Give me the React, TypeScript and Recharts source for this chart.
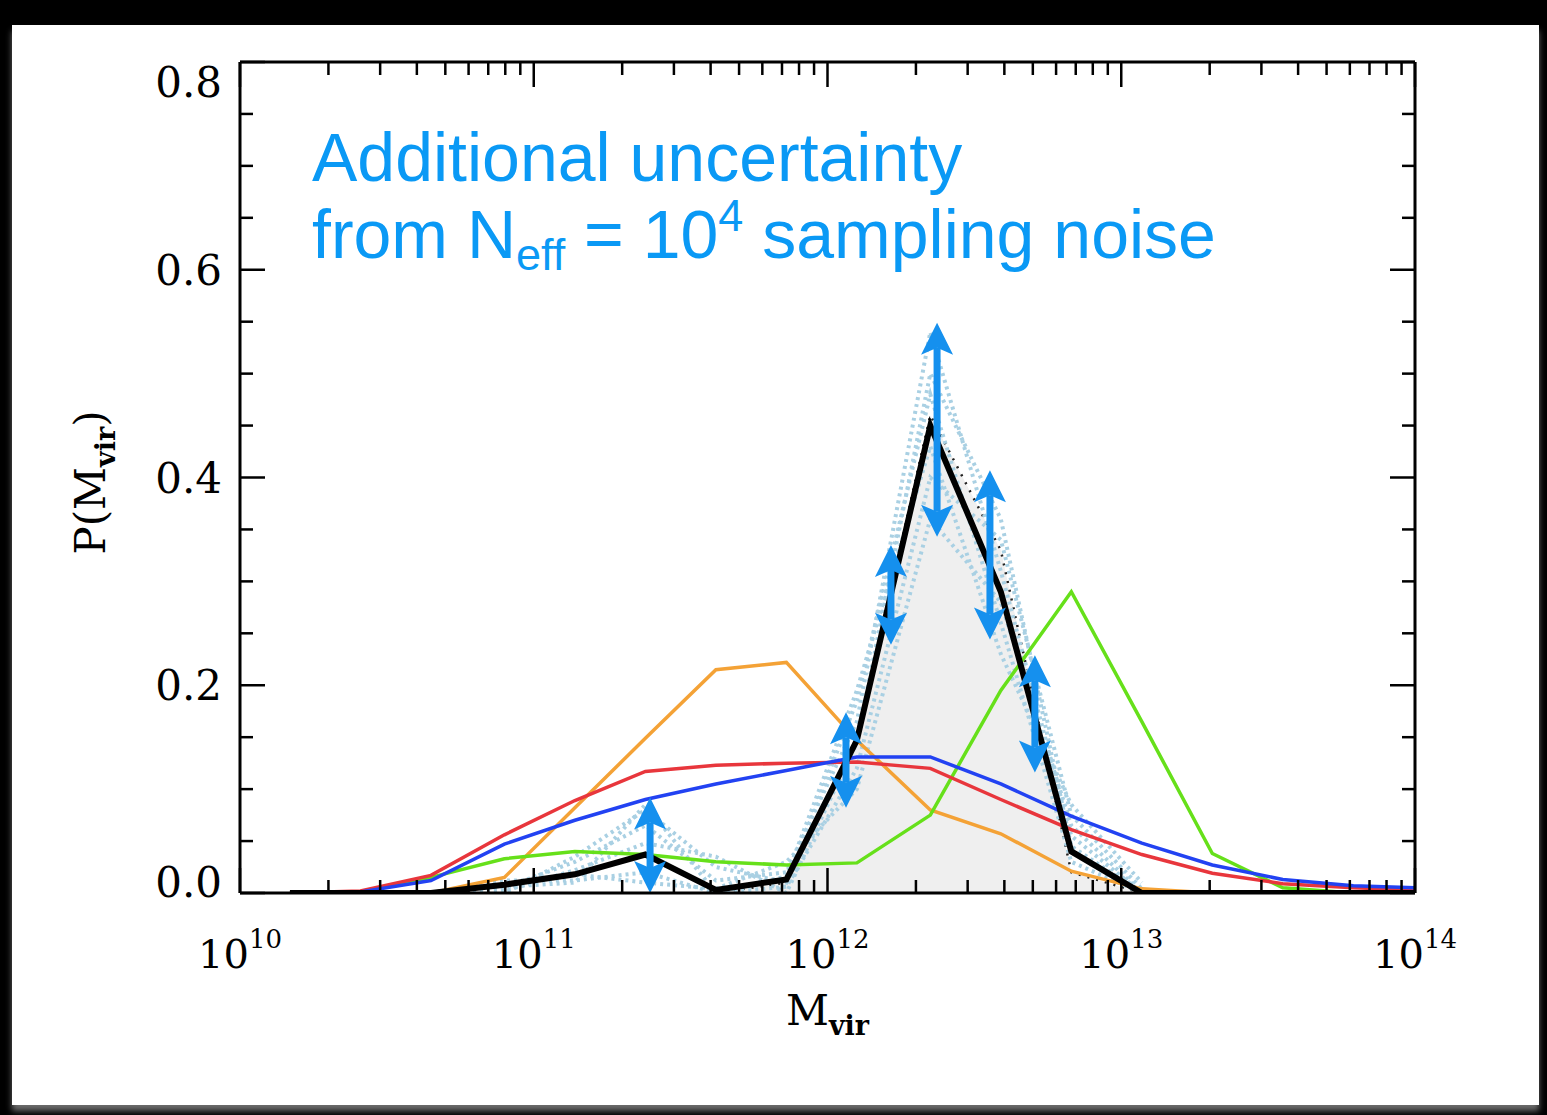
import React from "react";
import { ComposedChart, Line, Area, XAxis, YAxis, ReferenceLine } from "recharts";

// ---- data (log10 of virial mass bins, probabilities) ----
const logM = [10.17, 10.41, 10.65, 10.9, 11.14, 11.38, 11.62, 11.86, 12.1, 12.35, 12.59, 12.83, 13.07, 13.31, 13.55, 13.79, 14.0];

const blackP = [0, 0, 0, 0.008, 0.018, 0.037, 0.003, 0.013, 0.147, 0.45, 0.29, 0.04, 0, 0, 0, 0, 0];
const orangeP = [0, 0, 0, 0.015, 0.082, 0.149, 0.215, 0.222, 0.147, 0.08, 0.057, 0.021, 0.004, 0, 0, 0, 0];
const redP = [0, 0.002, 0.017, 0.056, 0.089, 0.117, 0.123, 0.125, 0.126, 0.12, 0.09, 0.061, 0.037, 0.019, 0.009, 0.005, 0.003];
const blueP = [0, 0.001, 0.012, 0.047, 0.07, 0.09, 0.105, 0.118, 0.131, 0.131, 0.105, 0.074, 0.048, 0.027, 0.013, 0.007, 0.005];
const greenP = [0, 0.001, 0.015, 0.033, 0.04, 0.037, 0.03, 0.027, 0.029, 0.075, 0.195, 0.29, 0.165, 0.038, 0.005, 0, 0];
const trueP = [null, null, null, null, null, null, 0, 0.01, 0.15, 0.46, 0.33, 0.02, 0, null, null, null, null];

const noise1 = [null, null, 0, 0.005, 0.03, 0.065, 0.012, 0.02, 0.165, 0.54, 0.31, 0.055, 0, null, null, null, null];
const noise2 = [null, null, 0, 0.012, 0.012, 0.02, 0.0, 0.006, 0.12, 0.4, 0.34, 0.075, 0.004, null, null, null, null];
const noise3 = [null, null, 0, 0.0, 0.035, 0.08, 0.025, 0.01, 0.185, 0.48, 0.26, 0.03, 0, null, null, null, null];
const noise4 = [null, null, 0, 0.008, 0.018, 0.01, 0.004, 0.03, 0.1, 0.36, 0.28, 0.065, 0, null, null, null, null];
const noise5 = [null, null, 0, 0.002, 0.022, 0.048, 0.035, 0.0, 0.145, 0.5, 0.36, 0.045, 0, null, null, null, null];
const noise6 = [null, null, 0, 0.006, 0.01, 0.085, 0.0, 0.016, 0.195, 0.43, 0.23, 0.085, 0.01, null, null, null, null];
const noiseSeries = [noise1, noise2, noise3, noise4, noise5, noise6];

// double-headed arrows: position (log10 M), low end, high end
const arrowLogM = [11.396, 12.063, 12.216, 12.373, 12.553, 12.706];
const arrowLow = [0.0, 0.082, 0.239, 0.343, 0.244, 0.116];
const arrowHigh = [0.092, 0.174, 0.335, 0.549, 0.407, 0.229];

// ticks
const xDecades = [10, 11, 12, 13, 14];
const minorMultipliers = [2, 3, 4, 5, 6, 7, 8, 9];
const yTicks = [0, 0.05, 0.1, 0.15, 0.2, 0.25, 0.3, 0.35, 0.4, 0.45, 0.5, 0.55, 0.6, 0.65, 0.7, 0.75, 0.8];

const xTicks: number[] = [];
xDecades.forEach((d, i) => {
  xTicks.push(d);
  if (i < xDecades.length - 1) minorMultipliers.forEach((k) => xTicks.push(d + Math.log10(k)));
});

const data = logM.map((L, i) => {
  const row: any = {
    L,
    black: blackP[i],
    orange: orangeP[i],
    red: redP[i],
    blue: blueP[i],
    green: greenP[i],
    truth: trueP[i],
  };
  noiseSeries.forEach((s, j) => (row["n" + (j + 1)] = s[i]));
  return row;
});

// ---- styles ----
const SERIF = "'DejaVu Serif', serif";
const SANS = "'Liberation Sans', Arial, sans-serif";
const ARROW = "#1590ee";
const TEXT_BLUE = "#0a99f5";
const MAJ = 25;
const MIN = 13;
const TICK_W = 2.5;

const isMajorX = (v: number) => Math.abs(v - Math.round(v)) < 1e-6;
const isMajorY = (v: number) => Math.abs(v / 0.2 - Math.round(v / 0.2)) < 1e-6;

function XTickBottom(props: any) {
  const { x, y, payload } = props;
  const v = payload.value;
  const major = isMajorX(v);
  return (
    <g>
      <line x1={x} x2={x} y1={y} y2={y - (major ? MAJ : MIN)} stroke="#000" strokeWidth={TICK_W} />
      {major && (
        <text x={x} y={y + 75} textAnchor="middle" fontFamily={SERIF} fontSize={40} fill="#000">
          10
          <tspan fontSize={26} dy={-20}>
            {Math.round(v)}
          </tspan>
        </text>
      )}
    </g>
  );
}

function XTickTop(props: any) {
  const { x, y, payload } = props;
  const major = isMajorX(payload.value);
  return <line x1={x} x2={x} y1={y} y2={y + (major ? MAJ : MIN)} stroke="#000" strokeWidth={TICK_W} />;
}

function YTickLeft(props: any) {
  const { x, y, payload } = props;
  const v = payload.value;
  const major = isMajorY(v);
  let dy = 15;
  if (Math.abs(v - 0.8) < 1e-6) dy = 35;
  if (Math.abs(v) < 1e-6) dy = 4;
  return (
    <g>
      <line x1={x} x2={x + (major ? MAJ : MIN)} y1={y} y2={y} stroke="#000" strokeWidth={TICK_W} />
      {major && (
        <text x={x - 18} y={y + dy} textAnchor="end" fontFamily={SERIF} fontSize={42} fill="#000">
          {v.toFixed(1)}
        </text>
      )}
    </g>
  );
}

function YTickRight(props: any) {
  const { x, y, payload } = props;
  const major = isMajorY(payload.value);
  return <line x1={x} x2={x - (major ? MAJ : MIN)} y1={y} y2={y} stroke="#000" strokeWidth={TICK_W} />;
}

function XTitle(props: any) {
  const vb = props.viewBox || {};
  const cx = vb.x + vb.width / 2;
  const by = vb.y + 132;
  return (
    <text x={cx} y={by} textAnchor="middle" fontFamily={SERIF} fontSize={42} fill="#000">
      M
      <tspan fontSize={27} fontWeight="bold" dy={10}>
        vir
      </tspan>
    </text>
  );
}

function YTitle(props: any) {
  const vb = props.viewBox || {};
  const bx = vb.x - 35;
  const cy = vb.y + vb.height / 2 + 5;
  return (
    <text
      x={bx}
      y={cy}
      transform={`rotate(-90, ${bx}, ${cy})`}
      textAnchor="middle"
      fontFamily={SERIF}
      fontSize={42}
      fill="#000"
    >
      P(M
      <tspan fontSize={27} fontWeight="bold" dy={10}>
        vir
      </tspan>
      <tspan dy={-10}>)</tspan>
    </text>
  );
}

function ArrowShape(p: any) {
  const { x1, y1, y2 } = p;
  const top = Math.min(y1, y2);
  const bot = Math.max(y1, y2);
  const x = x1;
  const hw = 16;
  const hl = 32;
  const notch = 7;
  return (
    <g>
      <line x1={x} x2={x} y1={top + hl - notch} y2={bot - hl + notch} stroke={ARROW} strokeWidth={7} />
      <polygon
        points={`${x},${top} ${x + hw},${top + hl} ${x},${top + hl - notch} ${x - hw},${top + hl}`}
        fill={ARROW}
      />
      <polygon
        points={`${x},${bot} ${x + hw},${bot - hl} ${x},${bot - hl + notch} ${x - hw},${bot - hl}`}
        fill={ARROW}
      />
    </g>
  );
}

export default function App() {
  return (
    <div style={{ position: "fixed", left: 0, top: 0, width: 1547, height: 1115, background: "#000", overflow: "hidden" }}>
      <div
        style={{
          position: "absolute",
          left: 12,
          top: 25,
          width: 1527,
          height: 1080,
          background: "#fff",
          boxShadow: "0 6px 6px rgba(120,120,120,0.9)",
        }}
      />
      <div style={{ position: "absolute", left: 0, top: 0 }}>
        <ComposedChart
          width={1547}
          height={1115}
          data={data}
          margin={{ top: 61, right: 131, bottom: 122, left: 140 }}
        >
          <XAxis
            dataKey="L"
            type="number"
            domain={[10, 14]}
            allowDataOverflow
            ticks={xTicks}
            interval={0}
            tick={<XTickBottom />}
            tickLine={false}
            tickSize={0}
            tickMargin={0}
            height={100}
            axisLine={{ stroke: "#000", strokeWidth: 3 }}
            label={(p: any) => <XTitle {...p} />}
          />
          <XAxis
            xAxisId="top"
            orientation="top"
            dataKey="L"
            type="number"
            domain={[10, 14]}
            allowDataOverflow
            ticks={xTicks}
            interval={0}
            tick={<XTickTop />}
            tickLine={false}
            tickSize={0}
            tickMargin={0}
            height={1}
            axisLine={{ stroke: "#000", strokeWidth: 3 }}
          />
          <YAxis
            type="number"
            domain={[0, 0.8]}
            allowDataOverflow
            ticks={yTicks}
            interval={0}
            tick={<YTickLeft />}
            tickLine={false}
            tickSize={0}
            tickMargin={0}
            width={100}
            axisLine={{ stroke: "#000", strokeWidth: 3 }}
            label={(p: any) => <YTitle {...p} />}
          />
          <YAxis
            yAxisId="right"
            orientation="right"
            type="number"
            domain={[0, 0.8]}
            allowDataOverflow
            ticks={yTicks}
            interval={0}
            tick={<YTickRight />}
            tickLine={false}
            tickSize={0}
            tickMargin={0}
            width={1}
            axisLine={{ stroke: "#000", strokeWidth: 3 }}
          />

          <Area
            dataKey="truth"
            type="linear"
            fill="#efefef"
            fillOpacity={1}
            stroke="#222"
            strokeWidth={2.5}
            strokeDasharray="2 7"
            dot={false}
            activeDot={false}
            isAnimationActive={false}
          />
          {noiseSeries.map((_, j) => (
            <Line
              key={"n" + j}
              dataKey={"n" + (j + 1)}
              type="linear"
              stroke="#a9d0e3"
              strokeWidth={4}
              strokeDasharray="3 4"
              dot={false}
              activeDot={false}
              isAnimationActive={false}
            />
          ))}
          <Line dataKey="orange" type="linear" stroke="#f4a236" strokeWidth={3.5} dot={false} activeDot={false} isAnimationActive={false} />
          <Line dataKey="green" type="linear" stroke="#66e01a" strokeWidth={3.5} dot={false} activeDot={false} isAnimationActive={false} />
          <Line dataKey="red" type="linear" stroke="#e8363c" strokeWidth={3.5} dot={false} activeDot={false} isAnimationActive={false} />
          <Line dataKey="blue" type="linear" stroke="#2242f2" strokeWidth={3.5} dot={false} activeDot={false} isAnimationActive={false} />
          <Line dataKey="black" type="linear" stroke="#000" strokeWidth={6} dot={false} activeDot={false} isAnimationActive={false} />

          {arrowLogM.map((L, i) => (
            <ReferenceLine
              key={"a" + i}
              segment={[
                { x: L, y: arrowLow[i] },
                { x: L, y: arrowHigh[i] },
              ]}
              ifOverflow="visible"
              shape={(p: any) => <ArrowShape {...p} />}
            />
          ))}
        </ComposedChart>
      </div>
      <svg width={1547} height={1115} style={{ position: "absolute", left: 0, top: 0, pointerEvents: "none" }}>
        <text x={312} y={181} fontFamily={SANS} fontSize={68} fill={TEXT_BLUE}>
          Additional uncertainty
        </text>
        <text x={312} y={258} fontFamily={SANS} fontSize={68} fill={TEXT_BLUE}>
          from N
          <tspan fontSize={45} dy={12}>
            eff
          </tspan>
          <tspan dy={-12}> = 10</tspan>
          <tspan fontSize={45} dy={-27}>
            4
          </tspan>
          <tspan dy={27}> sampling noise</tspan>
        </text>
      </svg>
    </div>
  );
}
